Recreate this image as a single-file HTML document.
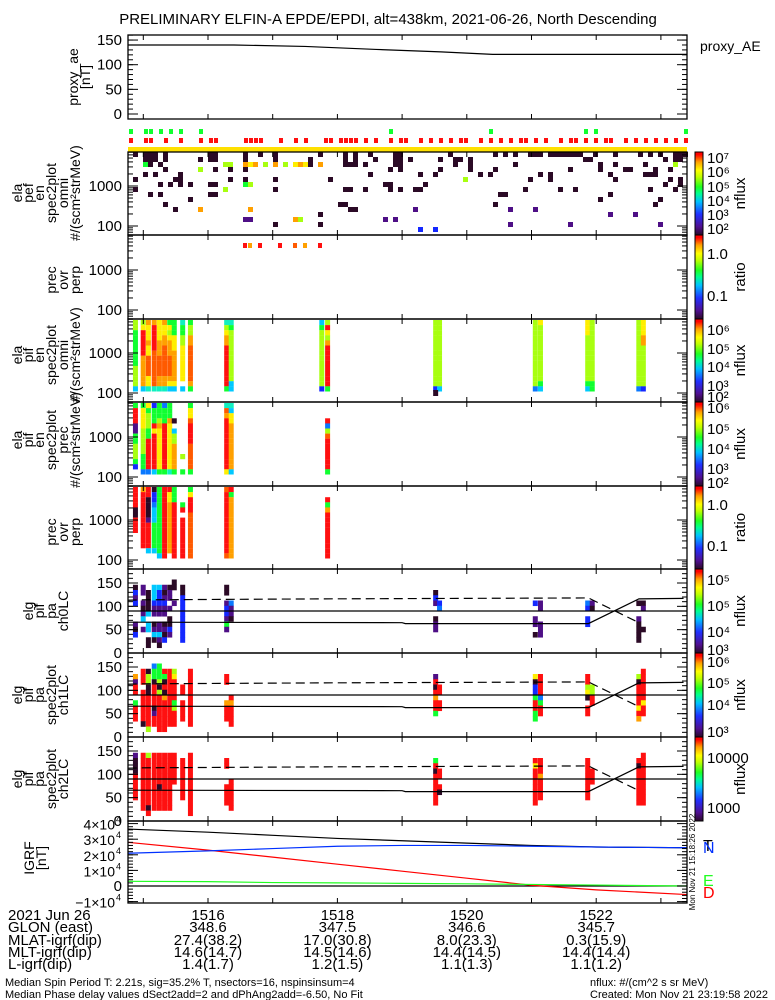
<!DOCTYPE html>
<html><head><meta charset="utf-8">
<style>
html,body{margin:0;padding:0;background:#fff;}
svg{display:block;font-family:"Liberation Sans",sans-serif;}
</style></head>
<body>
<svg id="fig" xmlns="http://www.w3.org/2000/svg" width="775" height="1000" viewBox="0 0 775 1000">
<defs>
<linearGradient id="rb" x1="0" y1="1" x2="0" y2="0">
<stop offset="0" stop-color="#2a0a28"/><stop offset="0.1" stop-color="#500f90"/><stop offset="0.25" stop-color="#2030ff"/><stop offset="0.4" stop-color="#00c0ff"/><stop offset="0.5" stop-color="#00ff90"/><stop offset="0.58" stop-color="#20ff20"/><stop offset="0.7" stop-color="#c0ff00"/><stop offset="0.78" stop-color="#ffff00"/><stop offset="0.88" stop-color="#ffa000"/><stop offset="0.97" stop-color="#ff0000"/><stop offset="1" stop-color="#ff0000"/>
</linearGradient>
</defs>
<text x="388" y="24" font-size="15" text-anchor="middle">PRELIMINARY ELFIN-A EPDE/EPDI, alt=438km, 2021-06-26, North Descending</text>
<g id="marks"></g>
<g id="axes"></g>
<g id="labels" font-size="15"></g>
</svg>
<script>
// ---------- data ----------
const tickMinutes = [16, 18, 20, 22];
const tickLabels = ["1516", "1518", "1520", "1522"];
const glonVals = ["348.6", "347.5", "346.6", "345.7"];
const mlatVals = ["27.4(38.2)", "17.0(30.8)", "8.0(23.3)", "0.3(15.9)"];
const mltVals = ["14.6(14.7)", "14.5(14.6)", "14.4(14.5)", "14.4(14.4)"];
const lVals = ["1.4(1.7)", "1.2(1.5)", "1.1(1.3)", "1.1(1.2)"];

const aeTimes = [14.76, 16.4, 17.5, 18.6, 19.6, 20.4, 23.4];
const aeValues = [140, 140, 137, 131, 126, 121, 121];

const igrfTimes = [14.76, 16.0, 17.0, 18.0, 19.0, 20.0, 21.0, 22.0, 23.4];
const igrfTotal = [3.65, 3.45, 3.25, 3.05, 2.9, 2.75, 2.6, 2.5, 2.45];
const igrfD = [2.8, 2.3, 1.85, 1.4, 0.95, 0.5, 0.05, -0.25, -0.55];
const igrfN = [2.1, 2.25, 2.4, 2.55, 2.6, 2.6, 2.55, 2.5, 2.45];
const igrfE = [0.3, 0.28, 0.22, 0.2, 0.17, 0.14, 0.1, 0.06, 0.0];

// pef grid cells [column, row, color]
const pefCells = [
[1,0,'k'],[3,0,'k'],[4,0,'k'],[5,0,'k'],[7,0,'k'],[16,0,'k'],[17,0,'k'],[23,0,'k'],[26,0,'k'],[29,0,'k'],[38,0,'k'],[43,0,'k'],[45,0,'k'],[48,0,'k'],[53,0,'k'],[54,0,'k'],
[64,0,'k'],[73,0,'k'],[75,0,'k'],[77,0,'k'],[80,0,'k'],[81,0,'k'],[82,0,'k'],[84,0,'k'],[85,0,'k'],[86,0,'k'],[87,0,'k'],[88,0,'k'],[89,0,'k'],[90,0,'k'],[93,0,'k'],[97,0,'k'],[102,0,'k'],[104,0,'k'],[106,0,'k'],[109,0,'k'],[110,0,'k'],[111,0,'k'],
[3,1,'k'],[4,1,'k'],[5,1,'k'],[7,1,'k'],[14,1,'k'],[16,1,'k'],[17,1,'k'],[23,1,'k'],[29,1,'k'],[36,1,'k'],[43,1,'k'],[45,1,'k'],[49,1,'k'],[53,1,'k'],[54,1,'k'],[56,1,'k'],[62,1,'k'],[65,1,'k'],[66,1,'k'],[68,1,'k'],[91,1,'k'],[92,1,'k'],[107,1,'k'],[109,1,'k'],[110,1,'k'],
[3,2,'g'],[4,2,'k'],[6,2,'k'],[19,2,'l'],[20,2,'l'],[23,2,'o'],[24,2,'y'],[25,2,'o'],[27,2,'l'],[29,2,'o'],[31,2,'l'],[33,2,'y'],[34,2,'o'],[35,2,'y'],[36,2,'k'],[38,2,'o'],[43,2,'k'],[44,2,'k'],[45,2,'k'],[47,2,'k'],[53,2,'k'],[54,2,'k'],[65,2,'k'],[68,2,'k'],[77,2,'k'],[94,2,'k'],[97,2,'k'],[103,2,'k'],[109,2,'l'],
[7,3,'k'],[14,3,'l'],[17,3,'k'],[20,3,'k'],[23,3,'k'],[52,3,'k'],[54,3,'k'],[62,3,'k'],[68,3,'k'],[73,3,'k'],[88,3,'k'],[94,3,'k'],[99,3,'k'],[100,3,'k'],[105,3,'k'],[108,3,'k'],
[3,4,'k'],[5,4,'k'],[10,4,'k'],[48,4,'k'],[58,4,'k'],[61,4,'k'],[70,4,'k'],[72,4,'k'],[82,4,'k'],[84,4,'k'],[96,4,'k'],[103,4,'k'],[104,4,'k'],[105,4,'k'],
[1,5,'k'],[9,5,'k'],[10,5,'k'],[20,5,'k'],[23,5,'k'],[29,5,'k'],[40,5,'k'],[67,5,'l'],[80,5,'k'],[84,5,'k'],[97,5,'k'],[108,5,'k'],[110,5,'k'],
[6,6,'k'],[8,6,'k'],[10,6,'k'],[12,6,'k'],[16,6,'k'],[17,6,'k'],[23,6,'g'],[24,6,'l'],[51,6,'k'],[52,6,'k'],[59,6,'k'],[107,6,'k'],[110,6,'k'],
[1,7,'k'],[19,7,'l'],[29,7,'k'],[43,7,'k'],[44,7,'k'],[47,7,'k'],[52,7,'k'],[54,7,'k'],[57,7,'k'],[58,7,'k'],[79,7,'k'],[86,7,'k'],[89,7,'k'],[104,7,'k'],[109,7,'k'],
[4,8,'k'],[6,8,'k'],[16,8,'k'],[17,8,'k'],[74,8,'k'],[75,8,'k'],[96,8,'k'],
[12,9,'k'],[94,9,'k'],[106,9,'k'],
[7,10,'k'],[42,10,'k'],[43,10,'k'],[73,10,'k'],[105,10,'k'],
[9,11,'k'],[14,11,'o'],[24,11,'o'],[44,11,'k'],[45,11,'k'],[57,11,'p'],[76,11,'p'],[81,11,'p'],
[38,12,'k'],[96,12,'p'],[101,12,'p'],
[23,13,'p'],[24,13,'p'],[33,13,'o'],[34,13,'l'],[51,13,'p'],[53,13,'p'],
[29,14,'k'],[38,14,'k'],[76,14,'p'],[88,14,'p'],[106,14,'p'],
[58,15,'b'],[61,15,'b']
];
const redFlagCols = [0,3,4,7,10,14,16,17,23,24,25,26,30,33,35,39,40,42,43,44,45,47,49,52,54,55,58,60,62,64,66,67,70,72,74,76,78,79,81,83,86,88,89,91,93,95,96,99,101,103,105,107,109,111];
const greenFlagCols = [0,3,4,6,8,10,14,52,72,91,93,111];
const pefRatioCols = [23,24,26,30,33,35,38];
const pefRatioColors = ['r','o','r','r','R','o','r'];

// pif spectrogram columns (minutes) and energy-bin colors, top (high E) to bottom
const pifTimes = [14.84,14.96,15.04,15.13,15.21,15.29,15.37,15.44,15.57,15.69,16.25,16.32,17.72,17.81,19.48,19.54,21.02,21.10,21.83,21.90,22.62,22.69];
const pifOmni = [
"llgggggggllllc","lyrrrrrooooooc","oyyyoyyRRRRyyt","orrrrrRRRRRRRt","yyyyoooRRRRoot","oyyooRRRRRRoot","gylyoooRRRRoyc","gggyyyooooooyc",
"tggllyyyyyyy.c","gllooRRRRRRRog","tlyoorrrrrrrrg","tgllllllllllcc","cglllllllllllb","lrylorrrrrrrrg",
"lllllllllllllb","lllllllllllllc","lllllllllllllB","ylllllllllllgc","yyylllllllllgc","llllllllllllgg","lllllllllllllB","yyyoollllllllb"];
const pifPrec = [
"grrrppgglllgb.","gyyyylllllgggB","yglllggrrrrrrB","bgggryrrrrrrrc","gggloyyyyyyyyg","Bgggrrrrrrrrrg","gggoyyyyyyyyyt","...k.cllooooog",
"..........l..g","gyyRrrrrRRRRRg","tRorrrrrrrrrry","tcyyoooooooooc","..............","...rBlRrrrrrrg",
"..............","..............","..............","..............","..............","..............","..............",".............."];
const pifRatio = [
"rrrrkkrrr.....","orrrrrrrrrrr..","rrkkkkprrrrrc.","kbbBcccgggggc.","gggggggggggggc","rrrrrrrrrrrrrr","ryyoooooooooo.","gggrrrrrrrrrrr",
"...gr.rrrrrrrr","gyrrrRRRRRRRRR","RrrrrrrrrrrrrR","rgoooooooooooo","..............","..rgorrrrrrrrr",
"..............","..............","..............","..............","..............","..............","..............",".............."];

// pitch-angle panels: 16 bins top=180deg to bottom=0deg
const paTimes = [14.84,14.96,15.04,15.13,15.21,15.29,15.37,15.44,15.57,15.69,16.25,16.32,19.48,19.54,21.02,21.10,21.83,21.90,22.62,22.69];
const pa0 = [
"...kbpb...pkb...","...pp.pkpc.p....","....kkkkc.cc.kk.","...cccbpp.kpck..","...cbbbpp.ppcpk.","...pkpbpp.kpkb..","...kpp.p.kkbp...","..kk..p.........",
"...kkbbbbbbbbb..","................","...kk.pbbpgp....","......Bppk......","....kbp..kpp....","......bB........",
"......b..pp.k...","......pp..ppp...","......Bb.bb.....","......pk........","......k..pkkkk..","......kp...k...."];
const pa1 = [
"....oprr.grrr...","...rrr.rrrrrrk..","...kllkkrrrrrrl.","..Bggkrrrrkprr..","..ggglklrrrrrrr.","...rgkrkorrrrrr.","...rrrrrrrrrrr..","...lyrrrrglrrr..",
"......rr.rrrr...","...rrrrrrrrrrr..","....rr...orrr...","........rorrrr..","....prkrorrg....","......rr.rr.....",
"....ykbbgrrgg...","....rrrrBgrr....","....rrlyk.rr....","......llrr......","....lkrrrryro...","...rrrrrryrr...."];
const pa2 = [
"...pkkkrrrrr....","...rrrrrrrrrrr..","...lrrrrrrrrrkr.","...rrrrrrrrrrr..","...rrrrrrkrrrr..","...rrrrrrrrrrr..","...rrrrrrrrrrr..","...rrrrrr.......",
"....rrrrrrrr....","...rrrrrrrrrrrr.","....rr...rrrr...","........rrrrrr..","....grkrrrrrr...","......rr.rk.....",
"....ryrrrrrrr...","....rrrorrrr....","....rrrrrrrr....","......rrr.......","....rkrrrrrrr...","...rrrrrrrrrr..."];

// pitch-angle reference lines (deg)
const lcTimes = [14.76, 19.0, 19.05, 21.88, 22.66, 23.35];
const lcDeg = [66, 65, 63, 63, 116, 117];
const alcTimes = [14.76, 15.0, 17.8, 21.88, 22.66];
const alcDeg = [113, 114, 116, 118, 65];
const perpDeg = 90;

// ---------- rendering ----------
const NS = "http://www.w3.org/2000/svg";
const marks = document.getElementById('marks');
const axesG = document.getElementById('axes');
const labelsG = document.getElementById('labels');
const X0 = 128, X1 = 687;
const xS = m => 208 + (m - 16) * 64.7;
const colX = c => X0 + c * 5;
const PAL = {k:'#2b0a26',p:'#4e0f86',P:'#3c0a66',b:'#1428ff',B:'#0a78ff',c:'#00c8ff',t:'#10f0c0',g:'#10ff30',l:'#a8ff10',y:'#ffee00',o:'#ffa000',R:'#ff5a00',r:'#ff1010'};

function el(tag, attrs, parent) {
  const e = document.createElementNS(NS, tag);
  for (const k in attrs) e.setAttribute(k, attrs[k]);
  (parent || marks).appendChild(e);
  return e;
}
function txt(x, y, s, anchor, size, parent, color) {
  const t = el('text', {x:x, y:y, 'text-anchor':anchor||'start', 'font-size':size||15, fill:color||'#000'}, parent || labelsG);
  t.textContent = s;
  return t;
}

const panels = [
  {name:'proxy-ae', top:35, bot:119},
  {name:'pef-omni', top:152, bot:235},
  {name:'pef-ratio', top:235, bot:319},
  {name:'pif-omni', top:319, bot:402},
  {name:'pif-prec', top:402, bot:486},
  {name:'pif-ratio', top:486, bot:569},
  {name:'pa-ch0', top:569, bot:653},
  {name:'pa-ch1', top:653, bot:737},
  {name:'pa-ch2', top:737, bot:821},
  {name:'igrf', top:821, bot:903}
];

// proxy AE line
(function(){
  const yA = v => 114 - v * 0.493;
  const pts = aeTimes.map((t,i)=> xS(t)+','+yA(aeValues[i])).join(' ');
  const l = el('polyline', {points:pts, fill:'none', stroke:'#000', 'stroke-width':1.2});
  
  
})();

// flags and yellow band
greenFlagCols.forEach(c => {
  const r = el('rect', {x:colX(c)+1, y:129, width:4, height:5, fill:'#10ff30'});
  
  
});
redFlagCols.forEach(c => {
  const r = el('rect', {x:colX(c)+1, y:138, width:4, height:5, fill:'#ff1010'});
  
  
});
(function(){
  const r = el('rect', {x:X0, y:147, width:X1-X0, height:5, fill:'#ffe000'});
  
  
})();

// pef cells
pefCells.forEach(d => {
  const r = el('rect', {x:colX(d[0]), y:152 + d[1]*5, width:5, height:5, fill:PAL[d[2]]});
  
  
});
pefRatioCols.forEach((c,i) => {
  const r = el('rect', {x:colX(c), y:243, width:4, height:5, fill:PAL[pefRatioColors[i]]});
  
  
});

// pif spectrograms
function spec(data, top, name) {
  data.forEach((col, i) => {
    for (let j = 0; j < col.length && j < 14; j++) {
      const ch = col[j];
      if (!PAL[ch]) continue;
      const r = el('rect', {x:xS(pifTimes[i]), y:top + 1 + j*5.1, width:5, height:5.2, fill:PAL[ch]});
      
      
    }
  });
}
spec(pifOmni, 319, 'pif-omni-cell');
spec(pifPrec, 402, 'pif-prec-cell');
spec(pifRatio, 486, 'pif-ratio-cell');
(function(){
  const r = el('rect', {x:xS(19.48), y:390, width:5, height:6, fill:PAL.k});
  
  
})();

// pitch-angle panels
function paPanel(data, top, bot, name) {
  const yD = d => bot - d * (bot - top) / 180;
  data.forEach((col, i) => {
    for (let j = 0; j < col.length && j < 16; j++) {
      const ch = col[j];
      if (!PAL[ch]) continue;
      const r = el('rect', {x:xS(paTimes[i]), y:yD(180 - j*11.25), width:5, height:(bot-top)/16 + 0.3, fill:PAL[ch]});
      
      
    }
  });
  const lp = lcTimes.map((t,i)=> xS(t)+','+yD(lcDeg[i])).join(' ');
  const l1 = el('polyline', {points:lp, fill:'none', stroke:'#000', 'stroke-width':1.2});
  
  
  const ap = alcTimes.map((t,i)=> xS(t)+','+yD(alcDeg[i])).join(' ');
  const l2 = el('polyline', {points:ap, fill:'none', stroke:'#000', 'stroke-width':1.2, 'stroke-dasharray':'9,5'});
  
  
  const l3 = el('line', {x1:X0, x2:X1, y1:yD(perpDeg), y2:yD(perpDeg), stroke:'#000', 'stroke-width':1.2});
  
  
}
paPanel(pa0, 569, 653, 'pa-ch0-cell');
paPanel(pa1, 653, 737, 'pa-ch1-cell');
paPanel(pa2, 737, 821, 'pa-ch2-cell');

// IGRF
(function(){
  const yI = v => 886 - v * 15.6;
  const series = [[igrfTotal,'#000','igrf-total-line'],[igrfD,'#ff0000','igrf-d-line'],[igrfN,'#0030ff','igrf-n-line'],[igrfE,'#20ff20','igrf-e-line']];
  const z = el('line', {x1:X0, x2:X1, y1:yI(0), y2:yI(0), stroke:'#000', 'stroke-width':1.2});
  
  
  series.forEach(s => {
    const pts = igrfTimes.map((t,i)=> xS(t)+','+yI(s[0][i])).join(' ');
    const l = el('polyline', {points:pts, fill:'none', stroke:s[1], 'stroke-width':1.2});
    
    
  });
})();

// ---------- axes ----------
panels.forEach(p => {
  const r = el('rect', {x:X0, y:p.top, width:X1-X0, height:p.bot-p.top, fill:'none', stroke:'#000', 'stroke-width':1.3}, axesG);
  
  
  tickMinutes.concat([15,17,19,21,23]).forEach(m => {
    el('line', {x1:xS(m), x2:xS(m), y1:p.top, y2:p.top+5, stroke:'#000'}, axesG);
    el('line', {x1:xS(m), x2:xS(m), y1:p.bot, y2:p.bot-5, stroke:'#000'}, axesG);
  });
});
function yTicks(top, bot, vals, labs, map, minor) {
  vals.forEach((v,i) => {
    const y = map(v);
    el('line', {x1:X0, x2:X0+10, y1:y, y2:y, stroke:'#000'}, axesG);
    el('line', {x1:X1, x2:X1-10, y1:y, y2:y, stroke:'#000'}, axesG);
    txt(122, y+5, labs[i], 'end', 15);
  });
  minor.forEach(v => {
    const y = map(v);
    if (y < top || y > bot) return;
    el('line', {x1:X0, x2:X0+5, y1:y, y2:y, stroke:'#000'}, axesG);
    el('line', {x1:X1, x2:X1-5, y1:y, y2:y, stroke:'#000'}, axesG);
  });
}
const linMinor = (a,b,s) => { const o=[]; for (let v=a; v<=b; v+=s) o.push(v); return o; };
yTicks(35,119,[0,50,100,150],['0','50','100','150'], v=>114-v*0.493, linMinor(0,160,10));
const logMinor = [60,70,80,90,100,200,300,400,500,600,700,800,900,1000,2000,3000,4000,5000,6000,7000,8000,9000];
[[152,235,186,226],[235,319,270,310],[319,402,353,393],[402,486,437,477],[486,569,520,560]].forEach(p => {
  const k = (p[3]-p[2]);
  const map = v => p[3] - (Math.log10(v) - 2) * k;
  yTicks(p[0], p[1], [100,1000], ['100','1000'], map, logMinor);
});
[[569,653],[653,737],[737,821]].forEach(p => {
  const map = v => p[1] - v*(p[1]-p[0])/180;
  yTicks(p[0], p[1], [0,50,100,150], ['0','50','100','150'], map, linMinor(0,180,10));
});
(function(){
  const map = v => 886 - v*15.6;
  [-1,0,1,2,3,4].forEach(v => {
    const y = map(v);
    el('line', {x1:X0, x2:X0+10, y1:y, y2:y, stroke:'#000'}, axesG);
    el('line', {x1:X1, x2:X1-10, y1:y, y2:y, stroke:'#000'}, axesG);
  });
  linMinor(-1,4,0.2).forEach(v => {
    const y = map(v);
    el('line', {x1:X0, x2:X0+5, y1:y, y2:y, stroke:'#000'}, axesG);
    el('line', {x1:X1, x2:X1-5, y1:y, y2:y, stroke:'#000'}, axesG);
  });
  const labs = [[4,'4×10'],[3,'3×10'],[2,'2×10'],[1,'1×10'],[-1,'−1×10']];
  labs.forEach(l => {
    const y = map(l[0]);
    txt(115, y+6, l[1], 'end', 14);
    txt(116, y-1, '4', 'start', 9);
  });
  txt(122, map(0)+5, '0', 'end', 15);
})();

// ---------- left titles ----------
function vLabel(lines, cy, xs) {
  lines.forEach((s,i) => {
    const t = el('text', {x:0, y:0, 'text-anchor':'middle', 'font-size':14, transform:'translate('+xs[i]+','+cy+') rotate(-90)'}, labelsG);
    t.textContent = s;
    
    
  });
}
vLabel(['proxy_ae','[nT]'], 77, [78, 90]);
vLabel(['ela','pef','en','spec2plot','omni','#/(scm²strMeV)'], 193, [22,33,44,56,68,80]);
vLabel(['prec','ovr','perp'], 280, [56,68,80]);
vLabel(['ela','pif','en','spec2plot','omni','#/(scm²strMeV)'], 355, [22,33,44,56,68,80]);
vLabel(['ela','pif','en','spec2plot','prec','#/(scm²strMeV)'], 440, [22,33,44,56,68,80]);
vLabel(['prec','ovr','perp'], 532, [56,68,80]);
vLabel(['elg','pif','pa','ch0LC'], 611, [33,44,56,68]);
vLabel(['elg','pif','pa','spec2plot','ch1LC'], 695, [22,33,44,56,68]);
vLabel(['elg','pif','pa','spec2plot','ch2LC'], 779, [22,33,44,56,68]);
vLabel(['IGRF','[nT]'], 858, [34,46]);

// ---------- colorbars ----------
const cbars = [
  {top:152,bot:235,labs:[['10⁷',158],['10⁶',172],['10⁵',187],['10⁴',201],['10³',215],['10²',229]],title:'nflux'},
  {top:235,bot:319,labs:[['1.0',254],['0.1',296]],title:'ratio'},
  {top:319,bot:402,labs:[['10⁶',330],['10⁵',349],['10⁴',367],['10³',386],['10²',397]],title:'nflux'},
  {top:402,bot:486,labs:[['10⁶',408],['10⁵',429],['10⁴',449],['10³',469],['10²',483]],title:'nflux'},
  {top:486,bot:569,labs:[['1.0',505],['0.1',546]],title:'ratio'},
  {top:569,bot:653,labs:[['10⁵',580],['10⁵',606],['10⁴',632],['10³',650]],title:'nflux'},
  {top:653,bot:737,labs:[['10⁶',662],['10⁵',683],['10⁴',705],['10³',732]],title:'nflux'},
  {top:737,bot:821,labs:[['10000',758],['1000',808]],title:'nflux'}
];
cbars.forEach((c,i) => {
  const r = el('rect', {x:695, y:c.top, width:8, height:c.bot-c.top, fill:'url(#rb)', stroke:'#000', 'stroke-width':1}, axesG);
  
  
  c.labs.forEach(l => txt(707, l[1]+5, l[0], 'start', 15));
  const t = el('text', {x:0, y:0, 'text-anchor':'middle', 'font-size':15, transform:'translate(745,'+((c.top+c.bot)/2)+') rotate(-90)'}, labelsG);
  t.textContent = c.title;
  
  
});
txt(700, 51, 'proxy_AE', 'start', 14);
txt(703, 851, 'T', 'start', 16, labelsG, '#000');
txt(703, 853, 'N', 'start', 16, labelsG, '#0030ff');
txt(703, 886, 'E', 'start', 16, labelsG, '#20ff20');
txt(703, 898, 'D', 'start', 16, labelsG, '#ff0000');
(function(){
  const t = el('text', {x:0, y:0, 'text-anchor':'middle', 'font-size':8, transform:'translate(695,862) rotate(-90)'}, labelsG);
  t.textContent = 'Mon Nov 21 15:18:26 2022';
})();

// ---------- bottom annotation ----------
const rowsY = [920, 932, 945, 957, 969];
txt(8, rowsY[0], '2021 Jun 26', 'start', 15);
txt(8, rowsY[1], 'GLON (east)', 'start', 15);
txt(8, rowsY[2], 'MLAT-igrf(dip)', 'start', 15);
txt(8, rowsY[3], 'MLT-igrf(dip)', 'start', 15);
txt(8, rowsY[4], 'L-igrf(dip)', 'start', 15);
tickMinutes.forEach((m,i) => {
  const x = xS(m);
  txt(x, rowsY[0], tickLabels[i], 'middle', 15);
  txt(x, rowsY[1], glonVals[i], 'middle', 15);
  txt(x, rowsY[2], mlatVals[i], 'middle', 15);
  txt(x, rowsY[3], mltVals[i], 'middle', 15);
  txt(x, rowsY[4], lVals[i], 'middle', 15);
});
txt(5, 986, 'Median Spin Period T: 2.21s, sig=35.2% T, nsectors=16, nspinsinsum=4', 'start', 11);
txt(5, 998, 'Median Phase delay values dSect2add=2 and dPhAng2add=-6.50, No Fit', 'start', 11);
txt(590, 986, 'nflux: #/(cm^2 s sr MeV)', 'start', 11);
txt(590, 998, 'Created: Mon Nov 21 23:19:58 2022', 'start', 11);
</script>
</body></html>
